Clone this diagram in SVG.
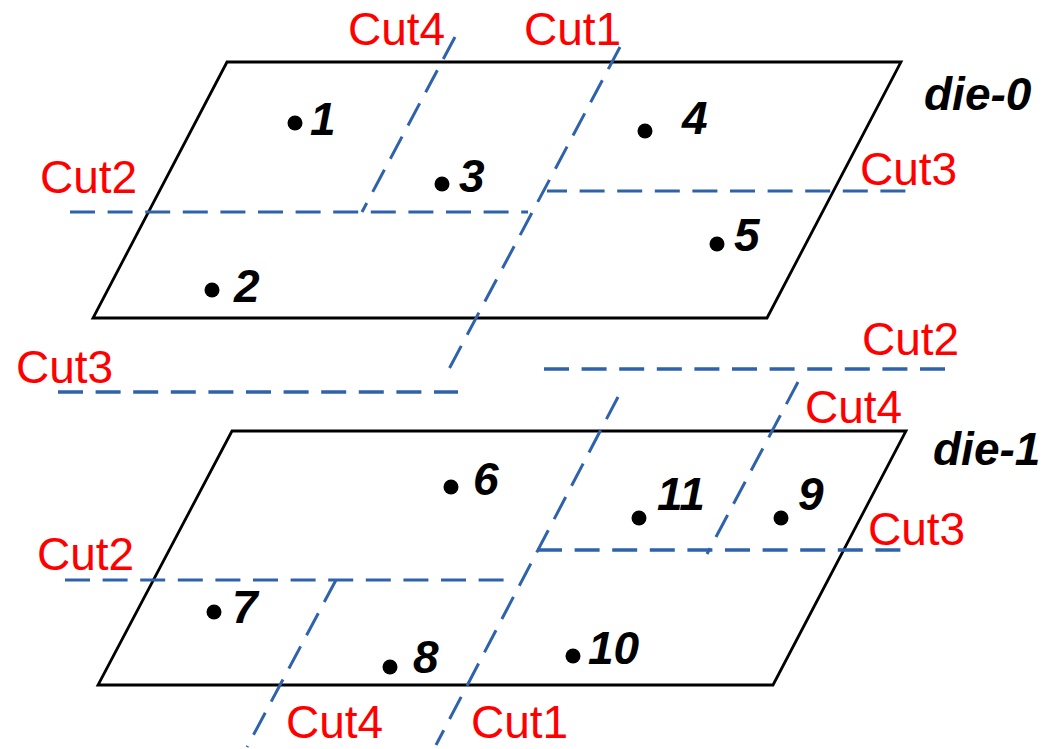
<svg xmlns="http://www.w3.org/2000/svg" width="1045" height="749" viewBox="0 0 1045 749">
<style>
.die{fill:#fff;stroke:#000;stroke-width:2.8}
.cut{fill:none;stroke:#2e63ab;stroke-width:3;stroke-dasharray:25 12.6}
.cutb{fill:none;stroke:#2e63ab;stroke-width:3.6;stroke-dasharray:25 12.6}
.dot{fill:#000}
.r{font:46px "Liberation Sans",Arial,sans-serif;fill:#f00}
.n{font:italic bold 46px "Liberation Sans",Arial,sans-serif;fill:#000}
</style>
<rect width="1045" height="749" fill="#fff"/>
<g id="die-0"><path class="die" d="M227 62H901L767 318H93Z"/><text class="n" x="924" y="110">die-0</text></g>
<g id="die-1"><path class="die" d="M232 431H906L773 685H98Z"/><text class="n" x="933" y="465">die-1</text></g>
<g id="connectors">
<path class="cut" d="M620 47L449 369"/>
<path class="cut" d="M455 37L362 212"/>
<path class="cut" d="M70 212H528"/>
<path class="cut" stroke-dashoffset="5" d="M547 191H908"/>
<path class="cutb" d="M58 392H458"/>
<path class="cutb" d="M544 369H945"/>
<path class="cut" d="M618 397L436 745"/>
<path class="cut" d="M798 382L707 554"/>
<path class="cutb" d="M537 550H902"/>
<path class="cut" d="M65 580H512"/>
<path class="cut" d="M336 580L247 747"/>
</g>
<g id="n1"><circle class="dot" cx="295" cy="123" r="7.5"/><text class="n" x="310" y="135">1</text></g>
<g id="n2"><circle class="dot" cx="212" cy="290" r="7.5"/><text class="n" x="234" y="302">2</text></g>
<g id="n3"><circle class="dot" cx="442" cy="184" r="7.5"/><text class="n" x="459" y="192">3</text></g>
<g id="n4"><circle class="dot" cx="645" cy="131" r="7.5"/><text class="n" x="682" y="134">4</text></g>
<g id="n5"><circle class="dot" cx="717" cy="244" r="7.5"/><text class="n" x="734" y="251">5</text></g>
<g id="n6"><circle class="dot" cx="451" cy="487" r="7.5"/><text class="n" x="473" y="495">6</text></g>
<g id="n7"><circle class="dot" cx="214" cy="612" r="7.5"/><text class="n" x="232" y="623">7</text></g>
<g id="n8"><circle class="dot" cx="390" cy="667" r="7.5"/><text class="n" x="413" y="673">8</text></g>
<g id="n9"><circle class="dot" cx="781" cy="518" r="7.5"/><text class="n" x="798" y="510">9</text></g>
<g id="n10"><circle class="dot" cx="573" cy="656" r="7.5"/><text class="n" x="588" y="664">10</text></g>
<g id="n11"><circle class="dot" cx="639" cy="518" r="7.5"/><text class="n" x="657" y="510">11</text></g>
<g id="labels">
<text class="r" x="348" y="45">Cut4</text>
<text class="r" x="524" y="45">Cut1</text>
<text class="r" x="40" y="193">Cut2</text>
<text class="r" x="860" y="185">Cut3</text>
<text class="r" x="16" y="383">Cut3</text>
<text class="r" x="862" y="355">Cut2</text>
<text class="r" x="805" y="423">Cut4</text>
<text class="r" x="868" y="545">Cut3</text>
<text class="r" x="37" y="570">Cut2</text>
<text class="r" x="286" y="738">Cut4</text>
<text class="r" x="471" y="738">Cut1</text>
</g>
</svg>
